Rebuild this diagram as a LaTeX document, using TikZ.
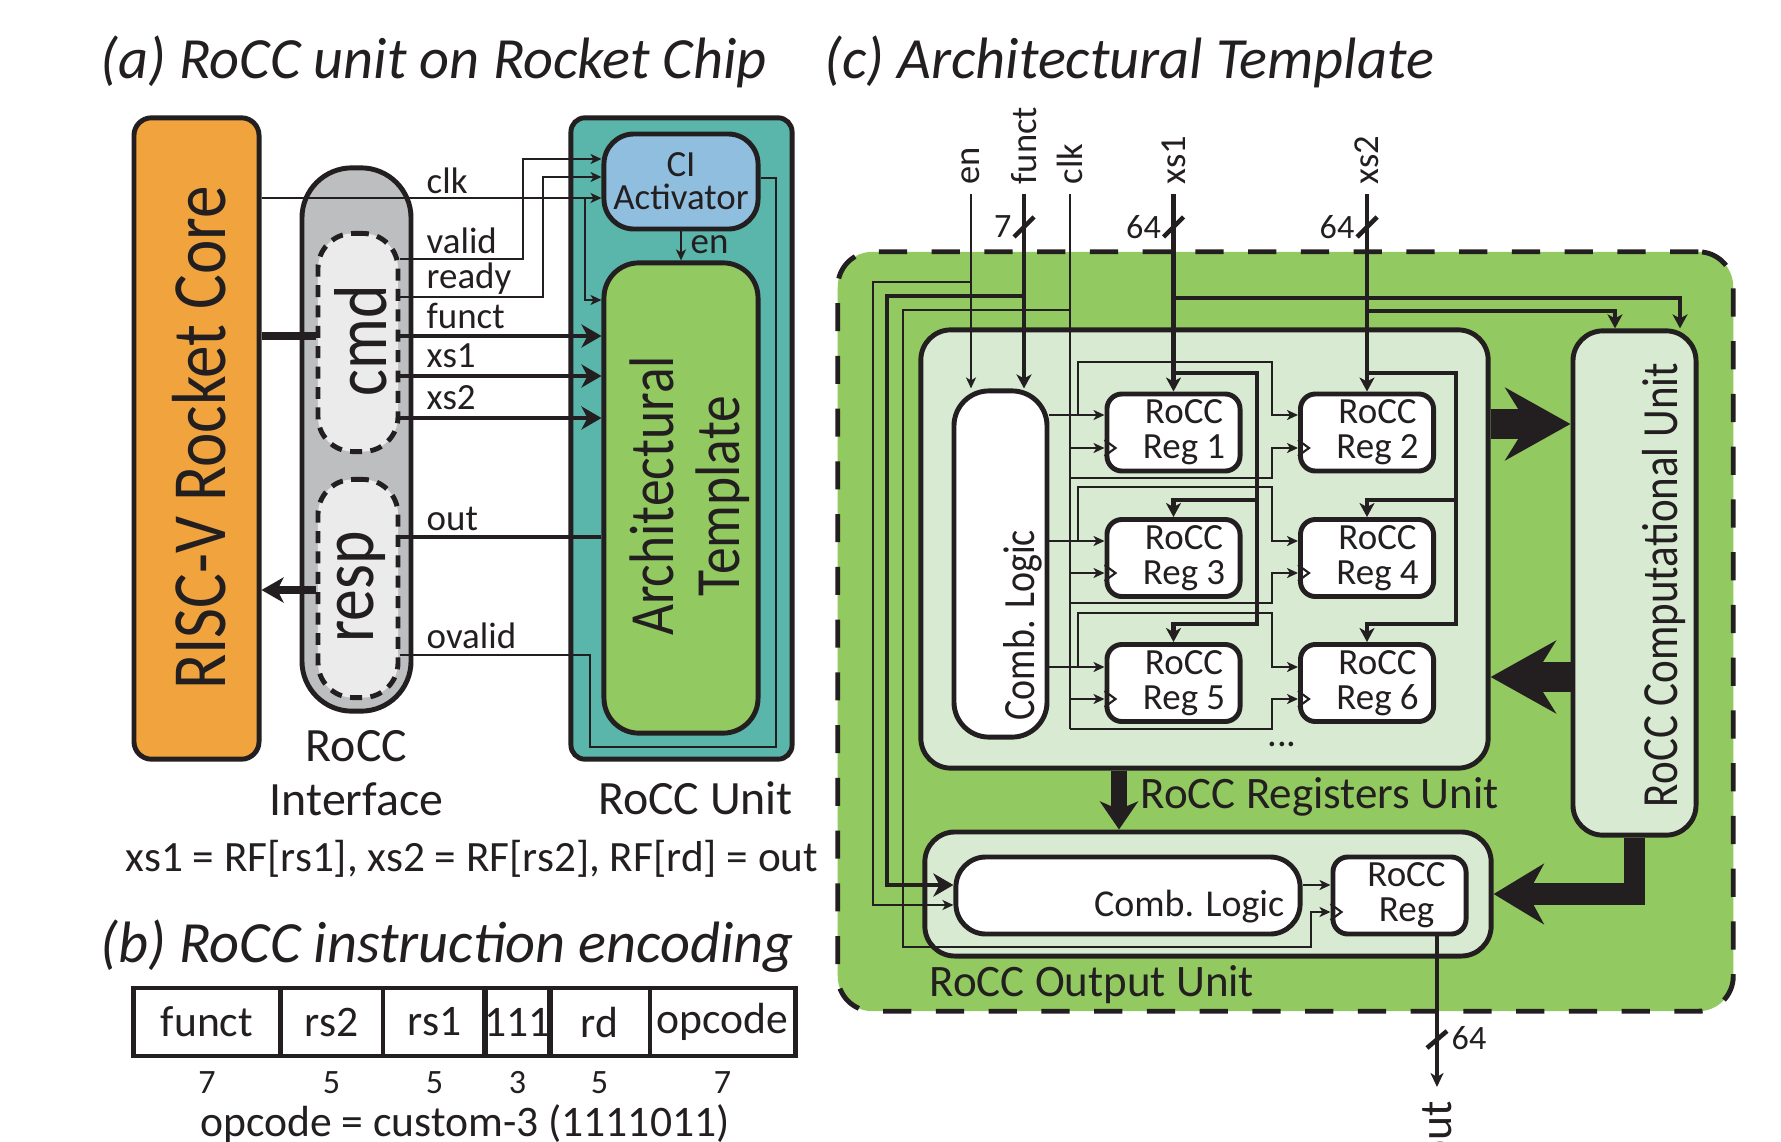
\documentclass[tikz,border=0pt]{standalone}
\usepackage{fontspec}
\setmainfont{Carlito}
\newfontfamily\rotfont{Carlito}[FakeStretch=0.85]
\usepackage{graphicx}
\usepackage{tikz}
\usetikzlibrary{arrows.meta,positioning,calc}
\definecolor{cInk}{RGB}{35,31,32}
\definecolor{cCore}{RGB}{241,164,62}
\definecolor{cIface}{RGB}{188,190,192}
\definecolor{cPort}{RGB}{235,235,235}
\definecolor{cUnit}{RGB}{90,181,170}
\definecolor{cAct}{RGB}{143,190,222}
\definecolor{cTmpl}{RGB}{146,201,96}
\definecolor{cSub}{RGB}{217,234,211}
\newcommand{\fsz}[2]{\fontsize{#1}{#2}\selectfont}
\tikzset{
  blk/.style={draw=cInk, line width=1.4pt, inner sep=0pt, text=cInk, align=center},
  corebox/.style={blk, fill=cCore, rounded corners=5pt, minimum width=1.25cm, minimum height=6.41cm},
  ifacebox/.style={blk, fill=cIface, rounded corners=0.5cm, minimum width=1.09cm, minimum height=5.43cm},
  portbox/.style={blk, fill=cPort, dash pattern=on 3.4pt off 2.4pt, rounded corners=0.35cm,
                  minimum width=0.8cm, minimum height=2.18cm},
  unitbox/.style={blk, fill=cUnit, rounded corners=4pt, minimum width=2.21cm, minimum height=6.41cm},
  actbox/.style={blk, fill=cAct, rounded corners=0.3cm, minimum width=1.54cm, minimum height=0.95cm,
                 font=\fsz{10.5}{9.4}},
  tmplbox/.style={blk, fill=cTmpl, rounded corners=0.35cm, minimum width=1.54cm, minimum height=4.70cm},
  archbox/.style={blk, fill=cTmpl, dash pattern=on 8pt off 7pt, rounded corners=0.35cm,
                  minimum width=8.95cm, minimum height=7.59cm},
  subbox/.style={blk, fill=cSub, rounded corners=0.3cm},
  whbox/.style={blk, fill=white, rounded corners=0.3cm},
  regbox/.style={blk, fill=white, rounded corners=0.15cm, minimum width=1.33cm, minimum height=0.77cm,
                 font=\fsz{10.5}{10}},
  cellbox/.style={blk, minimum height=0.68cm, font=\fsz{12.4}{14}},
  vlbl/.style={rotate=90, inner sep=0pt, text=cInk, align=center},
  sl/.style={inner sep=0pt, text=cInk, font=\fsz{10.5}{12}},
  numlbl/.style={inner sep=0pt, text=cInk, font=\fsz{9.7}{11}},
  lbl/.style={inner sep=0pt, text=cInk, align=center, font=\fsz{13.6}{15.4}},
  ttl/.style={inner sep=0pt, text=cInk, anchor=west, font=\fsz{16.6}{19}\itshape},
  sig/.style={draw=cInk, line width=0.6pt},
  sigarr/.style={sig, -{Stealth[length=1.1mm, width=1mm, inset=0.3mm]}},
  bus/.style={draw=cInk, line width=1.3pt},
  busarr/.style={bus, -{Stealth[length=2mm, width=2.3mm, inset=0.6mm]}},
  busarrc/.style={bus, -{Stealth[length=1.4mm, width=1.5mm, inset=0.4mm]}},
  fatarr/.style={draw=cInk, line width=8.5pt, -{Stealth[length=6.5mm, width=7.2mm, inset=2.2mm]}},
}

\begin{document}
\begin{tikzpicture}[x=0.01cm, y=-0.01cm]
  \fill[white] (0,0) rectangle (1781,1142);
  \useasboundingbox (0,0) rectangle (1781,1142);

  % titles
  \node[ttl] (ttla) at (100,62) {(a) RoCC unit on Rocket Chip};
  \node[ttl] (ttlc) at (824,62) {(c) Architectural Template};
  \node[ttl] (ttlb) at (100,946) {(b) RoCC instruction encoding};

  % (a) core, interface and unit
  \node[corebox] (core) at (196.5,438.5) {};
  \node[vlbl, font=\rotfont\fsz{21.8}{24}] at (199,438) {RISC-V Rocket Core};
  \node[ifacebox] (iface) at (356.5,439.5) {};
  \node[portbox] (cmd) at (358,342.5) {};
  \node[portbox] (resp) at (358,588.5) {};
  \node[vlbl, font=\rotfont\fsz{21.3}{24}] at (361,341) {cmd};
  \node[vlbl, font=\rotfont\fsz{21.3}{24}] at (361,587) {resp};
  \node[lbl, below=0.16cm of iface] (ifacelbl) {RoCC\\Interface};
  \node[unitbox] (unit) at (681.5,438.5) {};
  \node[actbox] (ci) at (681,181.5) {CI\\Activator};
  \node[tmplbox] (tmpl) at (681,498) {};
  \node[vlbl, font=\rotfont\fsz{17.9}{18.8}] at (690,496) {Architectural\\Template};
  \node[lbl, below=0.19cm of unit, xshift=0.14cm] (unitlbl) {RoCC Unit};
  \node[lbl, anchor=west, font=\fsz{12.3}{14}] (rfnote) at (125,859) {xs1 = RF[rs1], xs2 = RF[rs2], RF[rd] = out};

  % (a) signals
  \draw[draw=cInk, line width=2.3pt] (core.east |- 0,336) -- (cmd.west |- 0,336);
  \draw[draw=cInk, line width=2.3pt, -{Stealth[length=2.2mm, width=2.5mm, inset=0.6mm]}]
    (resp.west |- 0,590) -- (core.east |- 0,590);
  \draw[sigarr] (core.east |- 0,198) -- (ci.west |- 0,198);
  \draw[sigarr] (585,198) |- (tmpl.west |- 0,300);
  \draw[sigarr] (cmd.east |- 0,259) -| (523,159) -- (ci.west |- 0,159);
  \draw[sigarr] (cmd.east |- 0,297) -| (543,177) -- (ci.west |- 0,177);
  \draw[sigarr] (ci.south) -- (tmpl.north);
  \draw[busarr] (cmd.east |- 0,336) -- (tmpl.west |- 0,336);
  \draw[busarr] (cmd.east |- 0,376) -- (tmpl.west |- 0,376);
  \draw[busarr] (cmd.east |- 0,418) -- (tmpl.west |- 0,418);
  \draw[draw=cInk, line width=1pt] (tmpl.west |- 0,537) -- (resp.east |- 0,537);
  \draw[sig] (ci.east |- 0,178) -- (776,178) -- (776,747) -- (590,747) -- (590,655) -- (resp.east |- 0,655);
  \node[sl, anchor=base west] (lclk) at (426,193) {clk};
  \node[sl, anchor=base west] (lvalid) at (426,253) {valid};
  \node[sl, anchor=base west] (lready) at (426,288) {ready};
  \node[sl, anchor=base west] (lfunct) at (426,328) {funct};
  \node[sl, anchor=base west] (lxs1) at (426,367) {xs1};
  \node[sl, anchor=base west] (lxs2) at (426,409) {xs2};
  \node[sl, anchor=base west] (lout) at (426,530) {out};
  \node[sl, anchor=base west] (lovalid) at (426,648) {ovalid};
  \node[sl, anchor=base west] (len) at (690,253) {en};

  % (b) instruction encoding
  \foreach \t/\l/\r/\n [count=\k] in {funct/134/280/7, rs2/280/383/5, rs1/383/486/5,
                                      111/486/549/3, rd/549/650/5, opcode/650/795/7}{
    \pgfmathsetmacro\cw{(\r-\l)/100}
    \node[cellbox, minimum width=\cw cm] (fld\k) at ({(\l+\r)/2},1022) {\t};
    \node[numlbl, below=0.12cm of fld\k] (bits\k) {\n};
  }
  \node[lbl, font=\fsz{12.4}{14}] (opnote) at (465,1124) {opcode = custom-3 (1111011)};

  % (c) architectural template
  \node[archbox] (arch) at (1285.5,631.5) {};
  \node[subbox, minimum width=5.67cm, minimum height=4.38cm] (regu) at (1204.5,549) {};
  \node[subbox, minimum width=1.23cm, minimum height=5.04cm] (comp) at (1634.5,583) {};
  \node[subbox, minimum width=5.66cm, minimum height=1.24cm] (outu) at (1208,894) {};
  \node[vlbl, font=\rotfont\fsz{14.4}{16}] at (1664,585) {RoCC Computational Unit};
  \node[whbox, minimum width=0.93cm, minimum height=3.46cm, rounded corners=0.35cm] (cl1) at (1000.5,564) {};
  \node[vlbl, anchor=west, font=\rotfont\fsz{12.7}{14}] at (1023,721) {Comb. Logic};
  \foreach \i/\x/\y in {1/1173.5/432.5, 2/1367/432.5, 3/1173.5/558, 4/1367/558, 5/1173.5/683, 6/1367/683}
    \node[regbox] (r\i) at (\x,\y) {\hspace*{6pt}RoCC\\\hspace*{6pt}Reg \i};
  \node[whbox, minimum width=3.44cm, minimum height=0.77cm] (cl2) at (1128,895.5) {};
  \node[sl, anchor=east, font=\fsz{10.8}{12}] at (1285,907) {Comb. Logic};
  \node[regbox] (oreg) at (1399.5,895.5) {\hspace*{4pt}RoCC\\\hspace*{4pt}Reg};
  \node[sl, anchor=base, font=\fsz{11}{12}] (dots) at (1282,746) {...};
  \node[lbl, anchor=west, font=\fsz{12.8}{14}] (regulbl) at (1140,797) {RoCC Registers Unit};
  \node[lbl, anchor=west, font=\fsz{12.8}{14}] (outulbl) at (929,985) {RoCC Output Unit};

  % (c) inputs
  \coordinate (inEn) at (971,194);
  \coordinate (inFn) at (1024,194);
  \coordinate (inClk) at (1070,194);
  \coordinate (inX1) at (1173.5,194);
  \coordinate (inX2) at (1367,194);
  \foreach \c/\t in {inEn/en, inFn/funct, inClk/clk, inX1/xs1, inX2/xs2}
    \node[vlbl, anchor=west, font=\fsz{10.4}{12}] at ($(\c)+(0,-9)$) {\t};
  \foreach \c/\w in {inFn/7, inX1/64, inX2/64}{
    \draw[bus] ($(\c)+(-10,43)$) -- ($(\c)+(10,23)$);
    \node[numlbl, anchor=east] at ($(\c)+(-12,33)$) {\w};
  }

  % (c) control wires
  \draw[sigarr] (inEn) -- (inEn |- cl1.north);
  \draw[sigarr] (inEn |- 0,282) -| (873,905) -- (cl2.west |- 0,905);
  \draw[busarrc] (inFn) -- (inFn |- cl1.north);
  \draw[busarr] (inFn |- 0,296) -| (887,885) -- (cl2.west |- 0,885);
  \draw[sig] (inClk) -- (inClk |- 0,729);
  \draw[sigarr] (inClk |- 0,310) -| (903,947) -| (1311,912) -- (oreg.west |- 0,912);
  \draw[sigarr] (cl2.east |- 0,885) -- (oreg.west |- 0,885);
  \draw[sig] (oreg.west |- 0,904) -- ++(11,8) -- ++(-11,8);

  % (c) register rows: data, clock
  \foreach \yd/\yu/\yc/\yh/\i/\j in {415/362/448/478/1/2, 541/487/573/603/3/4, 667/613/699/729/5/6}{
    \draw[sigarr] (cl1.east |- 0,\yd) -- (r\i.west |- 0,\yd);
    \draw[sigarr] (1078,\yd) |- (1272,\yu) -- (1272,\yd) -- (r\j.west |- 0,\yd);
    \draw[sigarr] (inClk |- 0,\yc) -- (r\i.west |- 0,\yc);
    \draw[sigarr] (inClk |- 0,\yh) -| (1272,\yc) -- (r\j.west |- 0,\yc);
    \draw[sig] (r\i.west |- 0,\yc) ++(0,-8) -- ++(11,8) -- ++(-11,8);
    \draw[sig] (r\j.west |- 0,\yc) ++(0,-8) -- ++(11,8) -- ++(-11,8);
  }

  % (c) operands
  \draw[busarrc] (inX1) -- (r1.north);
  \draw[busarrc] (inX1 |- 0,298) -| (comp.north -| 1680,0);
  \draw[busarrc] (inX1 |- 0,373) -| (1257,624) -| (r5.north);
  \draw[busarrc] (1257,500) -| (r3.north);
  \draw[busarrc] (inX2) -- (r2.north);
  \draw[busarrc] (inX2 |- 0,311) -| (comp.north -| 1615,0);
  \draw[busarrc] (inX2 |- 0,373) -| (1456,624) -| (r6.north);
  \draw[busarrc] (1456,500) -| (r4.north);

  % (c) unit to unit
  \draw[fatarr] (regu.east |- 0,424) -- (comp.west |- 0,424);
  \draw[fatarr] (comp.west |- 0,677) -- (regu.east |- 0,677);
  \draw[draw=cInk, line width=6pt, -{Stealth[length=5mm, width=6mm, inset=1.6mm]}] (comp.south) |- (outu.east);
  \draw[draw=cInk, line width=4.5pt, -{Stealth[length=2.8mm, width=3.8mm, inset=0.8mm]}]
    (regu.south -| 1119,0) -- (outu.north -| 1119,0);

  % (c) output
  \coordinate (outEnd) at (1437,1087);
  \draw[draw=cInk, line width=1pt, -{Stealth[length=1.4mm, width=1.3mm, inset=0.4mm]}] (oreg.south -| outEnd) -- (outEnd);
  \draw[bus] (1427,1048) -- (1447,1031);
  \node[numlbl, anchor=west] at (1451,1038) {64};
  \node[vlbl, anchor=east, font=\fsz{13}{14}] at (1437,1100) {out};
\end{tikzpicture}
\end{document}
